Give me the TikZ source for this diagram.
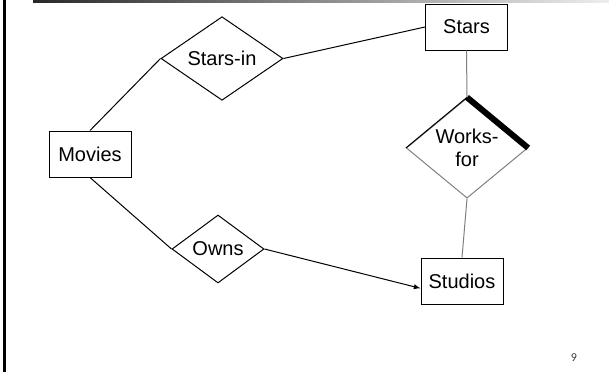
\documentclass[tikz,border=0pt]{standalone}
\usepackage{fontspec}
\setmainfont{Liberation Sans}
\newfontfamily\pagenofont{Carlito}
\usetikzlibrary{shapes.geometric,arrows.meta}

\tikzset{
  entity/.style={draw, line width=0.75, fill=white, minimum width=61.5pt, minimum height=34.5pt, inner sep=0pt, font=\fontsize{15}{17}\selectfont},
  relation/.style={draw, diamond, line width=0.75, fill=white, inner sep=0pt, align=center, font=\fontsize{15}{17}\selectfont},
  link/.style={line width=0.75},
  graylink/.style={line width=0.75, draw={rgb, 255:red, 128; green, 128; blue, 128 }}
}

\begin{document}
\begin{tikzpicture}[x=0.75pt,y=0.75pt,yscale=-1,xscale=1]
\useasboundingbox (0,0) rectangle (609,372);

%Slide frame
\fill [black] (3.3,0) rectangle (5.8,372);
\shade [left color={rgb, 255:red, 40; green, 40; blue, 40 }, right color={rgb, 255:red, 238; green, 238; blue, 238 }] (33,0) rectangle (609,2.5);

%Entities
\node [entity] (movies) at (90,154) {Movies};
\node [entity] (stars) at (466.5,27) {Stars};
\node [entity] (studios) at (462,281) {Studios};

%Relationships
\node [relation, minimum width=91.5pt, minimum height=58.5pt] (starsin) at (222,58.5) {Stars-in};
\node [relation, minimum width=69pt, minimum height=51pt] (owns) at (218,249) {Owns};
\node [relation, draw={rgb, 255:red, 128; green, 128; blue, 128 }, minimum width=91pt, minimum height=60pt] (worksfor) at (467,148) {Works-\\for};
\draw [link] (worksfor.west) -- (worksfor.north) ;
\draw [line width=4.5pt] (worksfor.north) -- (worksfor.east) ;

%Connectors
\draw [link] (movies.north) -- (starsin.west) ;
\draw [link] (starsin.east) -- (stars.west) ;
\draw [link] (movies.south) -- (owns.west) ;
\draw [link, -{Latex[length=5pt, width=4pt]}] (owns.east) -- (studios.190) ;
\draw [graylink] (stars.south) -- (worksfor.north) ;
\draw [graylink] (worksfor.south) -- (studios.north) ;

%Page number
\node [font=\pagenofont\fontsize{9}{10}\selectfont, text={rgb, 255:red, 60; green, 60; blue, 60 }] (pageno) at (574,358) {9};

\end{tikzpicture}
\end{document}
